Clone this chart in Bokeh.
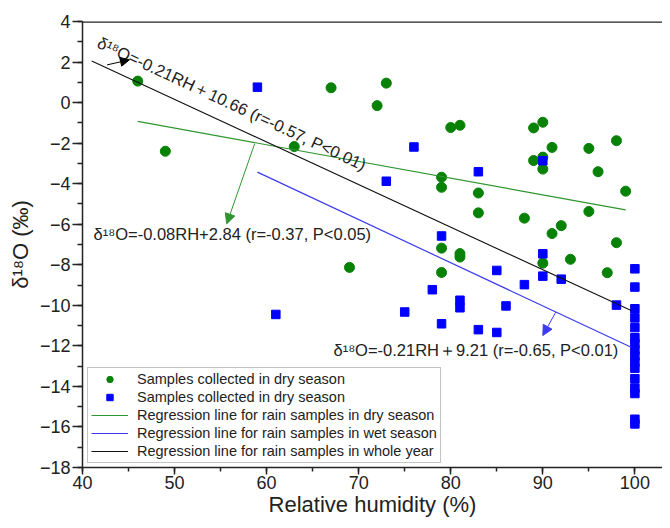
from bokeh.plotting import figure
from bokeh.models import (Legend, LegendItem, Arrow, NormalHead, Label,
                          SingleIntervalTicker, Span)
from bokeh.embed import file_html
from bokeh.resources import INLINE

# ---- data ----
dry_rh = [46, 49, 63, 67, 69, 72, 73, 79, 79, 79, 79, 80, 81, 81, 81, 83, 83,
          88, 89, 89, 90, 90, 90, 90, 91, 91, 92, 93, 95, 95, 96, 97, 98, 98, 99]
dry_d18o = [1.06, -2.4, -2.17, 0.73, -8.13, -0.15, 0.96, -3.68, -4.18, -7.18,
            -8.38, -1.23, -1.12, -7.45, -7.62, -4.46, -5.44, -5.7, -1.25, -2.86,
            -0.97, -2.69, -3.28, -7.92, -2.21, -6.46, -6.07, -7.73, -2.26, -5.37,
            -3.41, -8.39, -1.88, -6.91, -4.37]

wet_rh = [59, 61, 73, 75, 76, 78, 79, 79, 81, 81, 83, 83, 85, 85, 86, 88, 90,
          90, 90, 92, 98,
          100, 100, 100, 100, 100, 100, 100, 100, 100, 100, 100, 100, 100, 100,
          100, 100]
wet_d18o = [0.76, -10.45, -3.88, -10.33, -2.19, -9.23, -6.58, -10.91, -9.75,
            -10.12, -3.41, -11.2, -8.28, -11.34, -10.03, -8.98, -2.87, -7.46,
            -8.56, -8.71, -9.99,
            -8.2, -9.1, -10.17, -10.62, -11.1, -11.6, -11.9, -12.2, -12.5, -12.8,
            -13.1, -13.62, -14.08, -14.35, -15.62, -15.85]

dry_line_rh = [46, 99]
dry_line_d18o = [-0.93, -5.29]
wet_line_rh = [59, 99.6]
wet_line_d18o = [-3.43, -12.07]
all_line_rh = [41, 99.6]
all_line_d18o = [2.05, -10.26]

x_ticks_interval = 10
y_ticks_interval = 2

FONT = "Liberation Sans"

p = figure(width=662, height=520, x_range=(40, 103), y_range=(-18, 4),
           output_backend="svg", toolbar_location=None,
           min_border_left=82, min_border_right=0, min_border_top=21,
           min_border_bottom=53)
p.xgrid.visible = False
p.ygrid.visible = False
p.outline_line_color = None
p.background_fill_color = "white"
p.border_fill_color = "white"

p.xaxis.ticker = SingleIntervalTicker(interval=x_ticks_interval, num_minor_ticks=2)
p.yaxis.ticker = SingleIntervalTicker(interval=y_ticks_interval, num_minor_ticks=2)

for ax in (p.xaxis, p.yaxis):
    ax.axis_line_color = "#222222"
    ax.axis_line_width = 1.5
    ax.major_tick_line_color = "#222222"
    ax.minor_tick_line_color = "#222222"
    ax.major_tick_line_width = 1.5
    ax.minor_tick_line_width = 1.5
    ax.major_tick_in = 0
    ax.minor_tick_in = 0
    ax.major_label_text_font = FONT
    ax.major_label_text_font_size = "18px"
    ax.major_label_text_color = "#222222"
    ax.axis_label_text_font = FONT
    ax.axis_label_text_font_size = "22px"
    ax.axis_label_text_font_style = "normal"
    ax.axis_label_text_color = "#222222"

p.xaxis.major_tick_out = 7
p.xaxis.minor_tick_out = 4
p.xaxis.major_label_standoff = 1
p.xaxis.axis_label = "Relative humidity (%)"
p.xaxis.axis_label_standoff = 0

p.yaxis.major_tick_out = 10
p.yaxis.minor_tick_out = 5
p.yaxis.major_label_standoff = 2
p.yaxis.axis_label = "δ¹⁸O (‰)"
p.yaxis.axis_label_standoff = 4

# top border of the frame
p.add_layout(Span(location=4, dimension="width", line_color="#222222", line_width=2.5))

r_dry = p.scatter(dry_rh, dry_d18o, marker="circle", size=10,
                  fill_color="#078207", line_color="#078207")
r_wet = p.scatter(wet_rh, wet_d18o, marker="square", size=8.5,
                  fill_color="#0000ff", line_color="#0000ff")
r_ldry = p.line(dry_line_rh, dry_line_d18o, line_color="#2f962f", line_width=1.2)
r_lwet = p.line(wet_line_rh, wet_line_d18o, line_color="#3c3cf0", line_width=1.2)
r_lall = p.line(all_line_rh, all_line_d18o, line_color="#111111", line_width=1.1)

# annotation texts
p.add_layout(Label(x=41.74, y=3.01, text="δ¹⁸O=-0.21RH＋10.66 (r=-0.57, P<0.01)",
                   angle=-0.435, text_font=FONT, text_font_size="16.5px",
                   text_baseline="middle", text_align="left", text_color="#222222"))
p.add_layout(Label(x=41.2, y=-6.46, text="δ¹⁸O=-0.08RH+2.84 (r=-0.37, P<0.05)",
                   text_font=FONT, text_font_size="16.5px",
                   text_baseline="middle", text_align="left", text_color="#222222"))
p.add_layout(Label(x=67.26, y=-12.18, text="δ¹⁸O=-0.21RH＋9.21 (r=-0.65, P<0.01)",
                   text_font=FONT, text_font_size="16.5px",
                   text_baseline="middle", text_align="left", text_color="#222222"))

# arrows
p.add_layout(Arrow(x_start=42.67, y_start=1.86, x_end=45.1, y_end=2.11,
                   line_color="black", line_width=1,
                   end=NormalHead(size=9, fill_color="black", line_color="black")))
p.add_layout(Arrow(x_start=58.7, y_start=-2.03, x_end=55.67, y_end=-5.98,
                   line_color="#2f962f", line_width=1,
                   end=NormalHead(size=10, fill_color="#2f962f", line_color="#2f962f")))
p.add_layout(Arrow(x_start=91.4, y_start=-10.34, x_end=90.0, y_end=-11.49,
                   line_color="#3c3cf0", line_width=1,
                   end=NormalHead(size=10, fill_color="#3c3cf0", line_color="#3c3cf0")))

legend = Legend(items=[
    LegendItem(label="Samples collected in dry season", renderers=[r_dry]),
    LegendItem(label="Samples collected in dry season", renderers=[r_wet]),
    LegendItem(label="Regression line for rain samples in dry season", renderers=[r_ldry]),
    LegendItem(label="Regression line for rain samples in wet season", renderers=[r_lwet]),
    LegendItem(label="Regression line for rain samples in whole year", renderers=[r_lall]),
], location=(5, 4))
legend.label_text_font = FONT
legend.label_text_font_size = "14.5px"
legend.label_text_color = "#222222"
legend.label_height = 16
legend.glyph_height = 16
legend.glyph_width = 37
legend.label_standoff = 9
legend.spacing = 2
legend.padding = 3
legend.margin = 0
legend.border_line_color = "#888888"
legend.border_line_width = 1.5
legend.background_fill_alpha = 1.0
p.add_layout(legend)

open("out.html", "w").write(file_html(p, INLINE))
